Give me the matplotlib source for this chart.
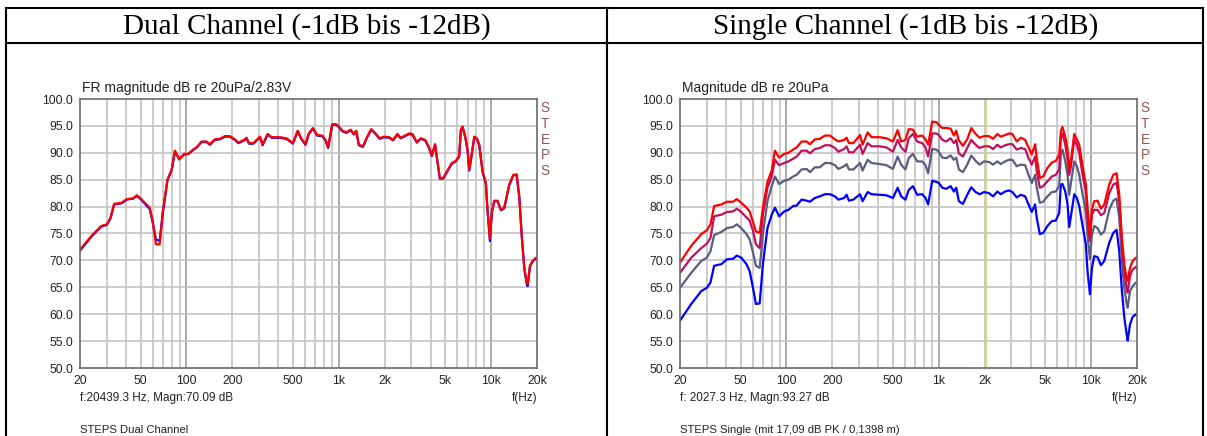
import matplotlib
matplotlib.use("Agg")
import matplotlib.pyplot as plt
from matplotlib.ticker import FixedLocator, NullFormatter, NullLocator

plt.rcParams['font.family'] = ['Liberation Sans', 'DejaVu Sans']

W, H = 1207, 436

# frequency grid (Hz) shared by all curves
freq_hz = [20, 23.7, 27.6, 30, 31.7, 33.5, 37.4, 40.6, 44.6, 47.2,
           50.5, 54.6, 57.3, 60, 63, 66.7, 70, 75, 80, 84,
           89.5, 96.6, 103, 110.6, 116.6, 125.7, 135.6, 142.5, 153.5, 165.5,
           178.8, 192.8, 208, 219, 239, 248, 257, 275, 304, 316,
           341, 362, 410, 453, 500, 537, 566,
           604, 635, 676, 721, 778, 818, 851, 905, 962, 1000,
           1055, 1120, 1195, 1256, 1301, 1354, 1439, 1537, 1633, 1744,
           1853, 1979, 2137, 2271, 2423, 2549, 2722, 2891, 3041, 3250,
           3451, 3689, 3881, 4077, 4286, 4396, 4604, 4843, 5168, 5522,
           5863, 6167, 6325, 6487, 6761, 7000, 7180, 7366, 7747, 8060,
           8355, 8790, 9230, 9466, 9817, 10120, 10480, 11020, 11590, 12190,
           13150, 13970, 14690, 15300, 15920, 16510, 17100, 17370, 17990, 18720,
           19680, 20000]

# dual channel, two drivers
dual_red = [72.0, 74.5, 76.4, 76.7, 77.9, 80.5, 80.7, 81.4, 81.5, 82.1,
            81.4, 80.4, 79.8, 77.3, 73.0, 73.0, 79.1, 85.0, 86.9, 90.4,
            88.8, 89.8, 89.8, 90.6, 91.0, 92.1, 92.1, 91.6, 92.5, 92.6,
            93.1, 93.1, 92.5, 91.9, 92.4, 92.8, 91.8, 91.8, 93.0, 91.5,
            93.5, 92.9, 92.9, 92.7, 91.8, 94.1, 92.7,
            91.6, 93.6, 94.6, 93.3, 93.2, 92.4, 91.0, 95.3, 95.3, 94.9,
            94.1, 93.8, 94.3, 93.5, 94.1, 91.5, 91.2, 93.0, 94.4, 93.6,
            92.7, 93.0, 92.9, 92.4, 93.5, 92.8, 93.2, 93.6, 93.5, 92.0,
            92.7, 92.4, 91.2, 89.5, 91.6, 89.3, 85.3, 85.3, 86.7, 88.1,
            88.5, 89.4, 94.3, 94.9, 93.0, 90.6, 86.9, 88.7, 93.0, 92.7,
            91.5, 86.5, 84.4, 79.4, 74.1, 79.1, 81.1, 81.1, 79.4, 79.8,
            84.1, 85.9, 86.0, 81.9, 74.2, 68.6, 65.9, 65.6, 69.0, 69.9,
            70.5, 70.4]
dual_blue = [71.8, 74.4, 76.3, 76.6, 77.8, 80.4, 80.6, 81.3, 81.5, 82.0,
             81.3, 80.2, 79.6, 77.1, 73.9, 73.6, 79.0, 84.9, 86.8, 90.3,
             88.8, 89.7, 89.8, 90.5, 91.0, 92.0, 92.0, 91.5, 92.4, 92.5,
             93.0, 93.0, 92.4, 91.8, 92.3, 92.7, 91.7, 91.7, 92.9, 91.4,
             93.4, 92.8, 92.8, 92.6, 91.7, 94.0, 92.6,
             91.5, 93.5, 94.5, 93.2, 93.1, 92.3, 90.9, 95.2, 95.2, 94.8,
             94.0, 93.7, 94.2, 93.4, 94.0, 91.4, 91.1, 92.9, 94.3, 93.5,
             92.6, 92.9, 92.8, 92.3, 93.4, 92.7, 93.1, 93.5, 93.4, 91.9,
             92.6, 92.3, 91.1, 89.4, 91.5, 89.2, 85.2, 85.2, 86.6, 88.0,
             88.4, 89.3, 94.2, 94.8, 92.9, 90.5, 86.7, 88.6, 92.9, 92.6,
             91.4, 86.4, 84.3, 79.3, 73.6, 79.0, 81.0, 81.0, 79.3, 79.7,
             84.0, 85.8, 85.9, 81.8, 74.1, 68.5, 65.7, 65.2, 68.9, 69.8,
             70.4, 70.3]

# single channel, -1 / -3 / -6 / -12 dB
single_m1 = [69.6, 72.7, 74.9, 75.6, 76.7, 80.1, 80.4, 80.9, 80.9, 81.4,
             80.7, 79.8, 79.1, 77.3, 75.4, 75.1, 79.8, 84.6, 86.7, 90.4,
             89.1, 89.8, 90.0, 90.6, 91.0, 92.1, 92.1, 91.6, 92.5, 92.6,
             93.2, 93.2, 92.5, 92.1, 92.4, 92.8, 91.8, 91.8, 93.3, 91.5,
             93.8, 92.9, 92.9, 92.7, 92.1, 94.2, 92.1,
             92.4, 94.4, 94.3, 93.0, 93.2, 92.5, 91.5, 95.8, 95.7, 95.2,
             94.6, 94.6, 94.5, 93.2, 94.1, 92.3, 91.3, 92.5, 94.6, 93.5,
             92.8, 93.1, 93.1, 92.6, 93.5, 93.0, 93.3, 93.6, 93.5, 92.1,
             92.8, 92.4, 91.0, 89.7, 91.6, 89.0, 85.3, 85.6, 87.2, 88.2,
             88.5, 89.6, 94.0, 94.8, 93.0, 90.6, 86.9, 88.5, 93.5, 92.5,
             91.5, 87.5, 84.1, 80.0, 74.8, 79.5, 81.0, 81.1, 79.6, 80.4,
             84.1, 85.9, 86.2, 82.2, 74.2, 69.3, 66.5, 66.2, 68.6, 69.9,
             70.5, 70.4]
single_m3 = [67.7, 70.5, 72.3, 73.1, 74.2, 78.2, 78.5, 79.0, 79.1, 79.6,
             79.0, 78.0, 77.4, 75.7, 73.0, 72.3, 78.5, 83.5, 85.6, 88.7,
             87.7, 88.1, 88.4, 88.9, 89.3, 90.4, 90.4, 89.9, 90.7, 90.9,
             91.4, 91.4, 90.9, 90.2, 90.7, 91.2, 90.1, 90.1, 91.5, 89.8,
             91.8, 91.2, 91.2, 91.0, 90.2, 92.4, 91.0,
             90.2, 92.7, 93.5, 92.1, 91.8, 91.0, 89.3, 93.6, 93.6, 93.3,
             92.4, 92.1, 92.7, 91.8, 92.4, 89.9, 89.3, 90.9, 92.4, 91.5,
             90.9, 91.2, 91.2, 90.7, 91.5, 91.0, 91.4, 91.6, 91.6, 90.6,
             90.9, 90.7, 89.0, 87.8, 89.3, 86.5, 83.5, 83.8, 84.7, 85.6,
             85.9, 86.9, 92.7, 93.6, 91.5, 88.7, 85.9, 87.5, 92.4, 91.5,
             89.9, 85.9, 82.8, 77.3, 73.6, 78.5, 79.4, 79.4, 78.4, 78.8,
             82.5, 84.1, 84.4, 81.0, 73.0, 68.0, 64.9, 64.0, 67.1, 68.3,
             68.8, 68.6]
single_m6 = [64.9, 67.7, 69.9, 70.5, 71.7, 74.7, 75.3, 76.0, 76.2, 76.7,
             76.0, 74.9, 73.9, 71.7, 69.0, 68.6, 74.8, 81.0, 83.8, 85.6,
             84.2, 84.8, 85.0, 85.6, 85.9, 86.9, 87.0, 86.4, 87.3, 87.3,
             88.1, 88.1, 87.7, 87.0, 87.5, 87.9, 86.9, 86.9, 88.1, 86.7,
             88.7, 88.1, 87.9, 87.7, 87.0, 89.3, 87.8,
             86.9, 89.0, 89.8, 88.4, 88.4, 87.7, 86.2, 90.7, 90.6, 90.2,
             89.1, 89.0, 89.5, 88.7, 89.1, 86.9, 86.4, 87.8, 89.5, 88.5,
             87.8, 88.4, 88.3, 87.8, 88.4, 87.9, 88.4, 88.7, 88.7, 87.5,
             87.8, 87.7, 85.9, 84.4, 85.9, 83.5, 80.7, 80.9, 81.9, 82.7,
             82.8, 83.8, 89.6, 90.6, 88.4, 85.9, 82.2, 84.4, 88.4, 87.5,
             85.9, 82.2, 79.1, 74.8, 70.2, 74.8, 76.4, 76.0, 74.8, 75.4,
             79.4, 81.1, 81.5, 77.9, 69.9, 64.9, 61.9, 61.2, 64.3, 65.2,
             65.9, 65.7]
single_m12 = [58.8, 61.9, 64.3, 64.9, 65.9, 69.0, 69.3, 70.2, 70.3, 70.9,
              70.5, 69.3, 68.0, 65.2, 61.9, 62.0, 69.3, 76.0, 78.5, 79.8,
              78.2, 79.1, 79.4, 80.1, 80.2, 81.3, 81.1, 80.9, 81.6, 81.9,
              82.3, 82.3, 81.9, 81.3, 81.6, 82.2, 81.1, 81.3, 82.3, 81.0,
              82.7, 82.3, 82.2, 82.1, 81.6, 83.5, 81.9,
              81.3, 83.1, 83.8, 82.2, 82.3, 81.6, 80.4, 84.8, 84.6, 84.4,
              83.5, 83.3, 83.8, 82.8, 83.5, 81.0, 80.5, 82.2, 83.6, 82.7,
              82.3, 82.7, 82.5, 81.9, 82.8, 82.3, 82.8, 83.0, 82.7, 81.7,
              82.2, 81.9, 80.4, 79.0, 80.4, 77.9, 74.9, 75.1, 76.4, 77.3,
              77.4, 78.8, 84.1, 84.2, 82.8, 80.4, 76.2, 78.2, 82.3, 81.6,
              80.1, 76.4, 73.0, 68.0, 63.7, 68.6, 70.8, 70.6, 69.1, 69.9,
              73.3, 75.1, 75.7, 71.7, 64.3, 59.4, 56.3, 55.1, 58.1, 59.5,
              60.0, 59.9]

xtick_vals = [20, 50, 100, 200, 500, 1000, 2000, 5000, 10000, 20000]
xtick_labels = ['20', '50', '100', '200', '500', '1k', '2k', '5k', '10k', '20k']
decade_lines = [100, 1000, 10000]
minor_lines = [30, 40, 50, 60, 70, 80, 90, 200, 300, 400, 500, 600, 700, 800, 900,
               2000, 3000, 4000, 5000, 6000, 7000, 8000, 9000]
ytick_vals = [50, 55, 60, 65, 70, 75, 80, 85, 90, 95, 100]


def fx(px):
    return px / W


def fy(py):
    return 1 - py / H


fig = plt.figure(figsize=(W / 100, H / 100), dpi=100)

# table frame around both panels
frame = dict(color='black', linewidth=1.5, transform=fig.transFigure)
fig.add_artist(plt.Line2D([fx(6), fx(1203)], [fy(8), fy(8)], **frame))
fig.add_artist(plt.Line2D([fx(6), fx(1203)], [fy(43), fy(43)], **frame))
for xp in (6, 607, 1203):
    fig.add_artist(plt.Line2D([fx(xp), fx(xp)], [fy(8), fy(436)], **frame))

fig.text(fx(307), fy(27), 'Dual Channel (-1dB bis -12dB)', family='Liberation Serif',
         fontsize=21, ha='center', va='center')
fig.text(fx(906), fy(27), 'Single Channel (-1dB bis -12dB)', family='Liberation Serif',
         fontsize=21, ha='center', va='center')


def setup_axes(x0, title, cursor, footer):
    ax = fig.add_axes([fx(x0), fy(368), 457 / W, 269 / H])
    ax.set_xscale('log')
    ax.set_xlim(20, 20000)
    ax.set_ylim(50, 100)
    for xv in minor_lines:
        ax.axvline(xv, color='#c4c4c4', linewidth=1.2, zorder=0)
    for xv in decade_lines:
        ax.axvline(xv, color='#9a9a9a', linewidth=1.2, zorder=0)
    for yv in ytick_vals[1:-1]:
        ax.axhline(yv, color='#c4c4c4', linewidth=1.2, zorder=0)
    ax.xaxis.set_major_locator(FixedLocator(xtick_vals))
    ax.xaxis.set_minor_locator(NullLocator())
    ax.xaxis.set_minor_formatter(NullFormatter())
    ax.set_xticklabels(xtick_labels)
    ax.set_yticks(ytick_vals)
    ax.set_yticklabels(['%.1f' % v for v in ytick_vals])
    ax.tick_params(length=0, labelsize=8.8, colors='#222222', pad=5)
    for sp in ax.spines.values():
        sp.set_color('#6a6a6a')
        sp.set_linewidth(1.2)
    fig.text(fx(x0 + 2), fy(88), title, fontsize=10, color='#222222', va='center')
    fig.text(fx(x0), fy(398), cursor, fontsize=8.5, color='#222222', va='center')
    fig.text(fx(x0 + 457), fy(398), 'f(Hz)', fontsize=8.5, color='#222222',
             va='center', ha='right')
    fig.text(fx(x0), fy(430), footer, fontsize=8.1, color='#222222', va='center')
    # vertical STEPS tag on the right edge
    fig.text(fx(x0 + 465), fy(101), 'S\nT\nE\nP\nS', fontsize=9.8, color='#945656',
             va='top', ha='center', linespacing=1.16)
    return ax


ax1 = setup_axes(80, 'FR magnitude dB re 20uPa/2.83V',
                 'f:20439.3 Hz, Magn:70.09 dB', 'STEPS Dual Channel')
ax1.plot(freq_hz, dual_blue, color='#0000ff', linewidth=1.6)
ax1.plot(freq_hz, dual_red, color='#ff0000', linewidth=1.6)

ax2 = setup_axes(680, 'Magnitude dB re 20uPa',
                 'f: 2027.3 Hz, Magn:93.27 dB', 'STEPS Single (mit 17,09 dB PK / 0,1398 m)')
ax2.axvline(2027.3, color='#d6d36a', linewidth=1.2, zorder=1)
ax2.plot(freq_hz, single_m12, color='#0000ff', linewidth=1.6)
ax2.plot(freq_hz, single_m6, color='#5c5c80', linewidth=1.6)
ax2.plot(freq_hz, single_m3, color='#c0105c', linewidth=1.6)
ax2.plot(freq_hz, single_m1, color='#ff0000', linewidth=1.6)

fig.savefig('out.png', dpi=100)
